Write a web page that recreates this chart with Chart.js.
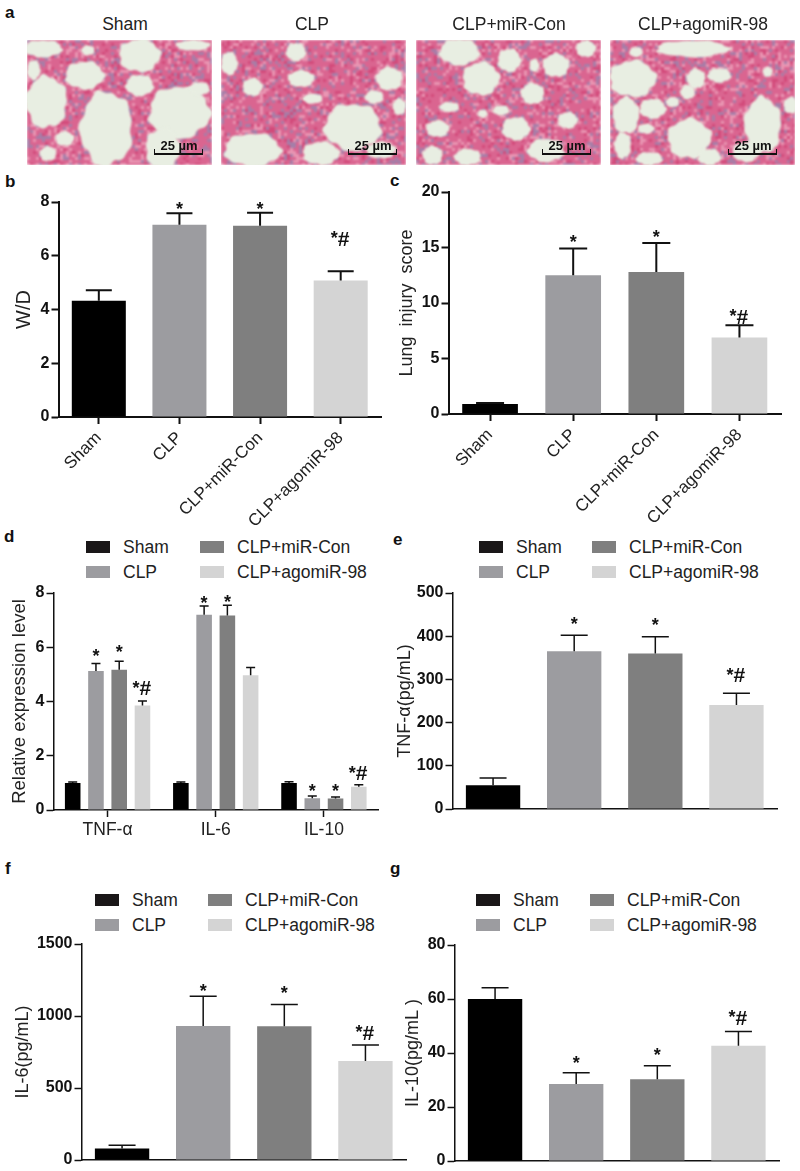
<!DOCTYPE html>
<html lang="en">
<head>
<meta charset="UTF-8">
<title>Lung injury panels</title>
<script src="https://cdn.jsdelivr.net/npm/chart.js"></script>
<style>
  body { margin: 0; background: #fff; font-family: "Liberation Sans", Arial, sans-serif; color: #222; }
  #page { position: relative; width: 800px; height: 1171px; overflow: hidden; }
  #page > * { position: absolute; }
  .letter { font-weight: bold; font-size: 17px; line-height: 20px; color: #111; }
  .title { font-size: 17.5px; line-height: 20px; transform: translateX(-50%); white-space: nowrap; }
  .sw { width: 24px; height: 12px; }
  .lg { font-size: 17.5px; line-height: 20px; white-space: nowrap; }
  .scale { height: 4px; width: 47px; border: solid #111; border-width: 0 1.5px 2px 1.5px; }
  .scalet { font-size: 13px; font-weight: bold; line-height: 14px; transform: translateX(-50%); white-space: nowrap; color: #111; }
</style>
</head>
<body>
<div id="page"></div>
<script>
// groups
var groups = ['Sham', 'CLP', 'CLP+miR-Con', 'CLP+agomiR-98'];
var cytokines = ['TNF-\u03b1', 'IL-6', 'IL-10'];
var groupColors = ['#000000', '#9c9ca0', '#7f7f7f', '#d4d4d4'];

// b
var wdValues = [4.33, 7.15, 7.12, 5.08];
var wdTops = [4.72, 7.58, 7.6, 5.42];
var wdMarks = ['', '*', '*', '*#'];
// c
var scoreValues = [0.9, 12.5, 12.8, 6.9];
var scoreTops = [1.0, 14.9, 15.4, 8.0];
var scoreMarks = ['', '*', '*', '*#'];
// d, one list per group over TNF-a, IL-6, IL-10
var shamRel = [1.0, 1.0, 1.0];
var shamRelTops = [1.03, 1.03, 1.04];
var clpRel = [5.12, 7.2, 0.43];
var clpRelTops = [5.4, 7.52, 0.52];
var conRel = [5.17, 7.17, 0.42];
var conRelTops = [5.48, 7.55, 0.48];
var agoRel = [3.85, 4.97, 0.86];
var agoRelTops = [4.02, 5.25, 0.93];
var relMarks = [['', '', ''], ['*', '*', '*'], ['*', '*', '*'], ['*#', '', '*#']];
// e
var tnfValues = [55, 365, 360, 241];
var tnfTops = [72, 402, 399, 268];
var tnfMarks = ['', '*', '*', '*#'];
// f
var il6Values = [80, 930, 928, 688];
var il6Tops = [103, 1137, 1080, 798];
var il6Marks = ['', '*', '*', '*#'];
// g
var il10Values = [60, 28.5, 30.3, 42.7];
var il10Tops = [64.2, 32.7, 35.3, 48];
var il10Marks = ['', '*', '*', '*#'];

var page = document.getElementById('page');
var FONT = '"Liberation Sans", Arial, sans-serif';

function add(cls, text, left, top, extra) {
  var d = document.createElement('div');
  d.className = cls;
  if (text) d.textContent = text;
  d.style.left = left + 'px';
  d.style.top = top + 'px';
  if (extra) d.style.background = extra;
  page.appendChild(d);
  return d;
}

// histology photos: no data here, just pale alveoli over stained tissue
var photos = [
  { x: 27, title: 125, bar: 154, holes: [[48,26,58,26],[173,106,58,42],[338,46,62,50],[498,16,52,16],[58,186,62,78],[238,266,78,112],[338,136,42,32],[458,216,92,78],[408,326,52,62],[113,296,28,22],[63,341,25,22],[183,31,20,15],[518,146,30,20],[20,90,20,30]] },
  { x: 221, title: 312, bar: 348, holes: [[225,36,30,28],[25,70,25,35],[95,141,30,27],[240,116,40,25],[505,116,40,35],[460,171,28,20],[395,261,85,70],[95,330,85,50],[300,340,55,35],[480,330,45,25],[535,200,20,25],[275,176,30,15]] },
  { x: 416, title: 509, bar: 542, holes: [[130,36,60,40],[280,61,35,35],[195,116,55,50],[420,76,40,35],[350,161,35,32],[100,201,30,15],[255,211,25,15],[300,266,42,35],[455,241,30,25],[65,266,35,25],[50,346,30,28],[155,351,40,25],[390,331,55,35],[200,221,15,12],[355,76,15,20],[510,26,30,25]] },
  { x: 610, title: 703, bar: 728, holes: [[78,36,20,15],[248,26,110,25],[68,116,70,55],[48,226,40,55],[258,116,28,30],[233,156,22,22],[328,106,35,22],[128,206,40,30],[108,266,25,15],[238,296,65,60],[458,256,55,85],[38,316,25,40],[118,356,40,20],[298,351,35,25],[408,336,40,30],[543,196,22,25],[473,96,15,15],[188,186,20,15]] }
];

photos.forEach(function (p, n) {
  var c = document.createElement('canvas');
  c.width = 185; c.height = 125;
  c.style.left = p.x + 'px';
  c.style.top = '40px';
  page.appendChild(c);
  var g = c.getContext('2d');

  var tex = document.createElement('canvas');
  tex.width = 185; tex.height = 125;
  var t = tex.getContext('2d');
  t.fillStyle = '#da6590';
  t.fillRect(0, 0, 185, 125);
  for (var i = 0; i < 185; i += 3) {
    for (var j = 0; j < 125; j += 3) {
      var h = Math.abs(Math.sin(i * 12.9898 + j * 78.233 + n) * 43758.5453) % 1;
      if (h < 0.15) t.fillStyle = '#a57ea8';
      else if (h < 0.3) t.fillStyle = '#e996b3';
      else if (h < 0.42) t.fillStyle = '#d24a7a';
      else continue;
      t.fillRect(i, j, 3, 3);
    }
  }
  g.filter = 'blur(1.2px)';
  g.drawImage(tex, 0, 0);

  g.save();
  g.filter = 'blur(0.8px)';
  g.scale(1 / 3, 1 / 3);
  g.fillStyle = '#e8eee2';
  p.holes.forEach(function (b, k) {
    g.beginPath();
    for (var a = 0; a <= 60; a++) {
      var th = a / 60 * Math.PI * 2;
      var r = 1 + 0.06 * Math.sin(5 * th + k) + 0.04 * Math.sin(11 * th + k * 2);
      var px = b[0] + b[2] * r * Math.cos(th), py = b[1] + b[3] * r * Math.sin(th);
      if (a === 0) g.moveTo(px, py); else g.lineTo(px, py);
    }
    g.fill();
  });
  g.restore();
  add('title', groups[n], p.title, 14);
  add('scale', '', p.bar, 149);
  add('scalet', '25 \u00b5m', p.bar + 25, 139);
});

// letters
[['a', 5, 3], ['b', 5, 172], ['c', 390, 171], ['d', 4, 527], ['e', 393, 530], ['f', 5, 859], ['g', 390, 859]].forEach(function (l) {
  add('letter', l[0], l[1], l[2]);
});

// legend, same 2x2 layout in every panel that has one
function legend(x0, x1, y0, y1) {
  groups.forEach(function (name, i) {
    var x = i < 2 ? x0 : x1;
    var y = i % 2 === 0 ? y0 : y1;
    add('sw', '', x, y, i === 0 ? '#1a1718' : groupColors[i]);
    add('lg', name, x + 37, y - 4);
  });
}
legend(86, 200, 541, 566);
legend(479, 592, 541, 566);
legend(95, 208, 894, 919);
legend(476, 590, 894, 919);

// upper error bars and the significance marks over them
var errorBars = {
  id: 'errorBars',
  afterDatasetsDraw: function (chart, args, o) {
    var ctx = chart.ctx, y = chart.scales.y;
    ctx.save();
    ctx.strokeStyle = '#111';
    ctx.fillStyle = '#111';
    ctx.lineWidth = o.lw;
    chart.data.datasets.forEach(function (ds, d) {
      chart.getDatasetMeta(d).data.forEach(function (bar, i) {
        var top = y.getPixelForValue(o.tops[d][i]);
        var base = y.getPixelForValue(ds.data[i]);
        ctx.beginPath();
        ctx.moveTo(bar.x, base);
        ctx.lineTo(bar.x, top);
        ctx.moveTo(bar.x - o.cap, top);
        ctx.lineTo(bar.x + o.cap, top);
        ctx.stroke();
        var m = o.marks[d][i];
        if (!m) return;
        var cy = top - o.gaps[d][i];
        ctx.textBaseline = 'alphabetic';
        if (m === '*') {
          ctx.font = 'bold 18px ' + FONT;
          ctx.textAlign = 'center';
          ctx.fillText('*', bar.x, cy + 10);
        } else {
          ctx.font = 'bold 18px ' + FONT;
          ctx.textAlign = 'right';
          ctx.fillText('*', bar.x - 3, cy + 6);
          ctx.font = 'bold 21px ' + FONT;
          ctx.textAlign = 'left';
          ctx.fillText('#', bar.x - 3, cy + 7.5);
        }
      });
    });
    ctx.restore();
  }
};

function panel(o) {
  var padTop = 18, padRight = 6;
  var left = o.titleX - 11;
  var axisW = o.axisX - left;
  var c = document.createElement('canvas');
  c.width = Math.round(o.right - left + padRight);
  c.height = Math.round(padTop + (o.bottom - o.top) + o.xHeight);
  c.style.left = left + 'px';
  c.style.top = (o.top - padTop) + 'px';
  page.appendChild(c);
  var showX = !!o.xFont;
  new Chart(c, {
    type: 'bar',
    data: { labels: o.labels, datasets: o.datasets },
    options: {
      responsive: false,
      animation: false,
      layout: { padding: { top: padTop, right: padRight, left: 0, bottom: 0 } },
      plugins: {
        legend: { display: false },
        tooltip: { enabled: false },
        errorBars: { tops: o.tops, marks: o.marks, gaps: o.gaps, cap: o.cap, lw: o.lw }
      },
      scales: {
        x: {
          offset: true,
          afterFit: function (s) { s.height = o.xHeight; },
          border: { color: '#111', width: o.lw },
          grid: { offset: false, drawOnChartArea: false, drawTicks: showX, tickLength: 7, tickWidth: o.lw, tickColor: '#111' },
          ticks: {
            display: showX,
            autoSkip: false,
            color: '#222',
            padding: o.xPad,
            minRotation: o.rot,
            maxRotation: o.rot,
            font: { family: FONT, size: o.xFont }
          }
        },
        y: {
          min: 0,
          max: o.max,
          afterFit: function (s) { s.width = axisW; },
          border: { color: '#111', width: o.lw },
          grid: { drawOnChartArea: false, tickLength: 7, tickWidth: o.lw, tickColor: '#111' },
          ticks: {
            stepSize: o.step,
            color: '#111',
            padding: 2,
            callback: function (v) { return String(v); },
            font: { family: FONT, size: 16, weight: 'bold' }
          },
          title: {
            display: true,
            text: o.yTitle,
            color: '#222',
            padding: 0,
            font: { family: FONT, size: o.yTitleSize || 18 }
          }
        }
      }
    },
    plugins: [errorBars]
  });
}

function single(values) {
  return [{ data: values, backgroundColor: groupColors, barPercentage: 0.67, categoryPercentage: 1 }];
}

panel({ titleX: 23, axisX: 58.5, right: 380.5, top: 202, bottom: 417, xHeight: 110, xFont: 17, rot: 45, xPad: 4,
  labels: groups, datasets: single(wdValues), max: 8, step: 2, yTitle: 'W/D', yTitleSize: 20,
  tops: [wdTops], marks: [wdMarks], gaps: [[0, 8, 8, 33]], cap: 13, lw: 2 });

panel({ titleX: 407, axisX: 448.5, right: 780.5, top: 192, bottom: 414, xHeight: 110, xFont: 17, rot: 45, xPad: 4,
  labels: groups, datasets: single(scoreValues), max: 20, step: 5, yTitle: 'Lung  injury  score',
  tops: [scoreTops], marks: [scoreMarks], gaps: [[0, 11, 10, 9]], cap: 14, lw: 2 });

var relSeries = [shamRel, clpRel, conRel, agoRel].map(function (vals, i) {
  return { data: vals, backgroundColor: groupColors[i], barPercentage: 0.67, categoryPercentage: 0.86 };
});
panel({ titleX: 20, axisX: 53.5, right: 377.5, top: 593, bottom: 809.5, xHeight: 36, xFont: 17.5, rot: 0, xPad: 3,
  labels: cytokines, datasets: relSeries, max: 8, step: 2, yTitle: 'Relative expression level', yTitleSize: 18.5,
  tops: [shamRelTops, clpRelTops, conRelTops, agoRelTops], marks: relMarks,
  gaps: [[0, 0, 0], [11.5, 7, 8.5], [13, 7, 10], [13, 0, 12]], cap: 4.5, lw: 1.5 });

panel({ titleX: 405, axisX: 452.5, right: 776.5, top: 592.7, bottom: 808.3, xHeight: 14,
  labels: groups, datasets: single(tnfValues), max: 500, step: 100, yTitle: 'TNF-\u03b1(pg/mL)',
  tops: [tnfTops], marks: [tnfMarks], gaps: [[0, 15, 16, 18.7]], cap: 13.5, lw: 1.5 });

panel({ titleX: 23, axisX: 81.5, right: 405.5, top: 944.3, bottom: 1160.7, xHeight: 14,
  labels: groups, datasets: single(il6Values), max: 1500, step: 500, yTitle: 'IL-6(pg/mL)',
  tops: [il6Tops], marks: [il6Marks], gaps: [[0, 9, 15, 13]], cap: 13.5, lw: 1.5 });

panel({ titleX: 413, axisX: 454.5, right: 778.5, top: 945.3, bottom: 1161.3, xHeight: 14,
  labels: groups, datasets: single(il10Values), max: 80, step: 20, yTitle: 'IL-10(pg/mL )',
  tops: [il10Tops], marks: [il10Marks], gaps: [[0, 14, 15, 14]], cap: 13.5, lw: 1.5 });
</script>
</body>
</html>
